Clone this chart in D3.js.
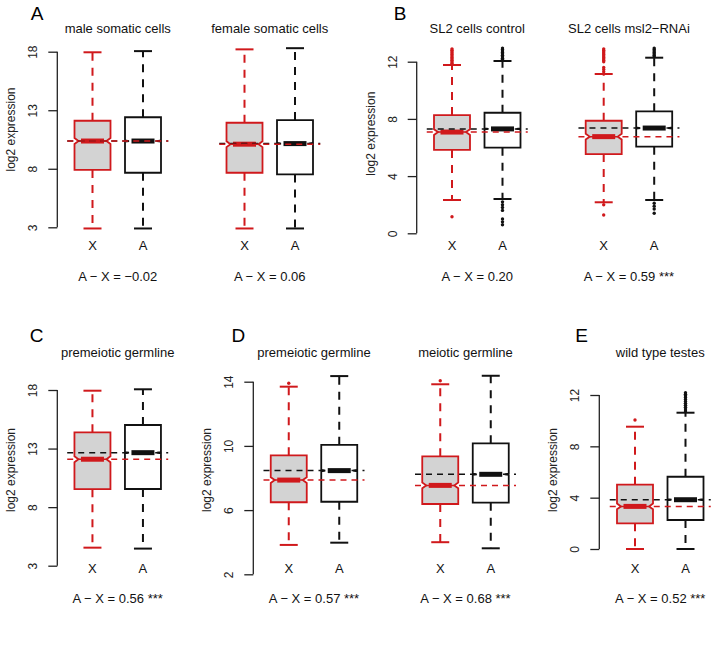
<!DOCTYPE html>
<html>
<head>
<meta charset="utf-8">
<script src="https://cdn.jsdelivr.net/npm/d3@7"></script>
<style>
  body { margin: 0; background: #fff; }
  svg { font-family: "Liberation Sans", Arial, Helvetica, sans-serif; }
</style>
</head>
<body>
<svg id="chart" width="718" height="672"></svg>
<script>
// ---- data ----
const groups = ["X", "A"];
const titles = ["male somatic cells", "female somatic cells", "SL2 cells control", "SL2 cells msl2\u2212RNAi",
  "premeiotic germline", "premeiotic germline", "meiotic germline", "wild type testes"];
const diffLabels = ["A \u2212 X = \u22120.02", "A \u2212 X = 0.06", "A \u2212 X = 0.20", "A \u2212 X = 0.59 ***",
  "A \u2212 X = 0.56 ***", "A \u2212 X = 0.57 ***", "A \u2212 X = 0.68 ***", "A \u2212 X = 0.52 ***"];

// [lower whisker, Q1, median, Q3, upper whisker]
const xStats = [
  [2.9, 7.9, 10.37, 12.1, 17.95],
  [2.9, 7.66, 10.1, 11.93, 18.2],
  [2.33, 5.83, 7.08, 8.27, 11.77],
  [2.17, 5.54, 6.76, 7.87, 11.14],
  [4.54, 9.53, 12.09, 14.39, 17.94],
  [3.83, 6.49, 7.87, 9.41, 13.69],
  [4.0, 6.38, 7.54, 9.35, 13.84],
  [0, 2.0, 3.32, 5.01, 9.53]
];
const aStats = [
  [2.9, 7.66, 10.37, 12.4, 18.05],
  [2.9, 7.52, 10.15, 12.16, 18.3],
  [2.4, 5.99, 7.3, 8.43, 12.05],
  [2.33, 6.06, 7.36, 8.53, 12.28],
  [4.46, 9.55, 12.65, 15.01, 18.06],
  [3.97, 6.52, 8.46, 10.07, 14.35],
  [3.62, 6.46, 8.23, 10.16, 14.37],
  [0, 2.26, 3.84, 5.63, 10.62]
];
// notch half-heights
const xNotch = [0.25, 0.25, 0.2, 0.2, 0.25, 0.18, 0.18, 0.22];
const aNotch = [0.05, 0.05, 0.04, 0.04, 0.05, 0.04, 0.04, 0.05];

const xOutliers = [
  [], [],
  [11.9, 12.0, 12.1, 12.2, 12.3, 12.4, 12.5, 12.6, 12.7, 12.8, 12.9, 1.16],
  [11.3, 11.45, 11.6, 12.0, 12.1, 12.2, 12.3, 12.4, 12.5, 12.6, 12.7, 12.8, 12.9, 2.0, 1.28],
  [], [13.9], [14.06], [10.05]
];
const aOutliers = [
  [], [],
  [12.15, 12.25, 12.35, 12.45, 12.55, 12.65, 12.75, 12.85, 12.95, 2.2, 2.0, 1.8, 1.6, 1.0, 0.8, 0.6],
  [12.35, 12.45, 12.55, 12.65, 12.75, 12.85, 12.95, 2.1, 1.9, 1.7, 1.4],
  [], [], [],
  [10.75, 10.9, 11.05, 11.2, 11.35, 11.5, 11.65, 11.8, 11.95, 12.05, 12.18]
];

const yTicks = [[3, 8, 13, 18], [0, 4, 8, 12], [3, 8, 13, 18], [2, 6, 10, 14], [0, 4, 8, 12]];
const panelLetters = ["A", "B", "C", "D", "E"];

// ---- layout ----
const red = "#d0191c";
const panels = [
  { subs: [0, 1], yPix: [227.3, 51.7], axisX: 57.3, starts: [67.25, 219.25], row: 0, letterX: 37, labY: 129.5 },
  { subs: [2, 3], yPix: [233.3, 61.7], axisX: 416.7, starts: [426.75, 578.45], row: 0, letterX: 400, labY: 133.7 },
  { subs: [4], yPix: [565.7, 390], axisX: 57.3, starts: [67.2], row: 1, letterX: 36.7, labY: 470 },
  { subs: [5, 6], yPix: [574.3, 381.7], axisX: 253.3, starts: [263.5, 415], row: 1, letterX: 238.3, labY: 470 },
  { subs: [7], yPix: [549, 395], axisX: 599.3, starts: [609.75], row: 1, letterX: 581.7, labY: 470 }
];
const rows = [
  { letterY: 13, titleY: 28, catY: 245, diffY: 276 },
  { letterY: 335, titleY: 352, catY: 568, diffY: 598 }
];
const unit = 50.5;     // px per category step
const halfBox = 18;    // px
const notchIn = 14;    // notch apex, px from centre
const medHalf = 11.5;  // half length of the median bar

const svg = d3.select("#chart");

panels.forEach((p, pi) => {
  const ticks = yTicks[pi];
  const r = rows[p.row];
  const y = d3.scaleLinear().domain([ticks[0], ticks[ticks.length - 1]]).range(p.yPix);
  const g = svg.append("g");

  // panel letter
  g.append("text").attr("x", p.letterX).attr("y", r.letterY)
    .attr("text-anchor", "middle").attr("dominant-baseline", "central")
    .attr("font-size", 19).text(panelLetters[pi]);

  // y axis, R style
  const axis = d3.axisLeft(y).tickValues(ticks).tickSize(9).tickFormat(d3.format("d"));
  const ax = g.append("g").attr("transform", `translate(${p.axisX},0)`).call(axis);
  ax.select(".domain").attr("d", `M0,${p.yPix[0]}V${p.yPix[1]}`).attr("stroke", "#222").attr("stroke-width", 1.3);
  ax.selectAll(".tick line").attr("stroke", "#222").attr("stroke-width", 1.3);
  ax.selectAll(".tick text")
    .attr("x", null).attr("dy", null)
    .attr("transform", "translate(-24,0) rotate(-90)")
    .attr("text-anchor", "middle").attr("dominant-baseline", "central")
    .attr("font-size", 12).attr("fill", "#222");

  g.append("text")
    .attr("transform", `translate(${p.axisX - 46},${p.labY}) rotate(-90)`)
    .attr("text-anchor", "middle").attr("dominant-baseline", "central")
    .attr("font-size", 12).attr("fill", "#222").text("log2 expression");

  p.subs.forEach((si, k) => {
    const x = d3.scaleLinear().domain([0.5, 2.5]).range([p.starts[k], p.starts[k] + 2 * unit]);
    const sg = g.append("g");
    const stats = [xStats[si], aStats[si]];
    const notches = [xNotch[si], aNotch[si]];
    const outs = [xOutliers[si], aOutliers[si]];

    groups.forEach((name, gi) => {
      const cx = x(gi + 1);
      const [lo, q1, med, q3, hi] = stats[gi];
      const col = gi === 0 ? red : "#111";
      const fill = gi === 0 ? "#d3d3d3" : "#fff";
      const w = halfBox, n = notches[gi];

      // whiskers
      sg.append("line").attr("x1", cx).attr("x2", cx).attr("y1", y(q3)).attr("y2", y(hi))
        .attr("stroke", col).attr("stroke-width", 2).attr("stroke-dasharray", "8,7");
      sg.append("line").attr("x1", cx).attr("x2", cx).attr("y1", y(q1)).attr("y2", y(lo))
        .attr("stroke", col).attr("stroke-width", 2).attr("stroke-dasharray", "8,7");
      [lo, hi].forEach(v => {
        sg.append("line").attr("x1", cx - w / 2).attr("x2", cx + w / 2).attr("y1", y(v)).attr("y2", y(v))
          .attr("stroke", col).attr("stroke-width", 2);
      });

      // notched box
      const pts = [
        [cx - w, y(q1)], [cx - w, y(med - n)], [cx - notchIn, y(med)], [cx - w, y(med + n)], [cx - w, y(q3)],
        [cx + w, y(q3)], [cx + w, y(med + n)], [cx + notchIn, y(med)], [cx + w, y(med - n)], [cx + w, y(q1)]
      ];
      sg.append("path").attr("d", d3.line()(pts) + "Z")
        .attr("fill", fill).attr("stroke", col).attr("stroke-width", 1.8);
      sg.append("line").attr("x1", cx - medHalf).attr("x2", cx + medHalf).attr("y1", y(med)).attr("y2", y(med))
        .attr("stroke", col).attr("stroke-width", 5);

      // outliers
      sg.selectAll(null).data(outs[gi]).join("circle")
        .attr("cx", cx).attr("cy", d => y(d)).attr("r", 1.7).attr("fill", col);

      // category label
      sg.append("text").attr("x", cx).attr("y", r.catY)
        .attr("text-anchor", "middle").attr("dominant-baseline", "central")
        .attr("font-size", 13).attr("fill", "#111").text(name);
    });

    // dashed reference lines at the medians
    sg.append("line").attr("x1", x(0.5)).attr("x2", x(2.5))
      .attr("y1", y(aStats[si][2])).attr("y2", y(aStats[si][2]))
      .attr("stroke", "#111").attr("stroke-width", 1.5).attr("stroke-dasharray", "6,5");
    sg.append("line").attr("x1", x(0.5)).attr("x2", x(2.5))
      .attr("y1", y(xStats[si][2])).attr("y2", y(xStats[si][2]))
      .attr("stroke", red).attr("stroke-width", 1.5).attr("stroke-dasharray", "6,5");

    const mid = (x(1) + x(2)) / 2;
    sg.append("text").attr("x", mid).attr("y", r.titleY)
      .attr("text-anchor", "middle").attr("dominant-baseline", "central")
      .attr("font-size", 13).attr("fill", "#111").text(titles[si]);
    sg.append("text").attr("x", mid).attr("y", r.diffY)
      .attr("text-anchor", "middle").attr("dominant-baseline", "central")
      .attr("font-size", 13).attr("fill", "#111").text(diffLabels[si]);
  });
});
</script>
</body>
</html>
